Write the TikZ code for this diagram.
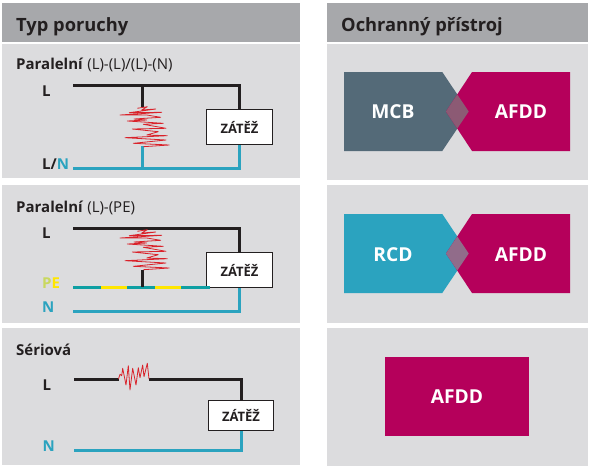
\documentclass[tikz,border=0pt]{standalone}
\usepackage{fontspec}
\setmainfont{Open Sans}
\definecolor{headgray}{HTML}{A7A8AB}
\definecolor{panelgray}{HTML}{DCDCDE}
\definecolor{ink}{HTML}{231F20}
\definecolor{wirecyan}{HTML}{2BA3BF}
\definecolor{peteal}{HTML}{0E9FA3}
\definecolor{peyellow}{HTML}{FFE600}
\definecolor{pegreen}{HTML}{C9D85F}
\definecolor{faultred}{HTML}{D9222A}
\definecolor{mcbslate}{HTML}{546A78}
\definecolor{afddred}{HTML}{B5005B}
\definecolor{mixslate}{HTML}{8C5A74}
\definecolor{mixcyan}{HTML}{916C8A}
\tikzset{
  head/.style={fill=headgray},
  panel/.style={fill=panelgray},
  headtext/.style={anchor=base west,inner sep=0pt,text=ink,font=\fontsize{18.3}{18}\selectfont\bfseries},
  title/.style={anchor=base west,inner sep=0pt,text=ink,font=\fontsize{15}{15}\selectfont},
  wirelabel/.style={anchor=base west,inner sep=0pt,text=ink,font=\fontsize{15}{15}\selectfont\bfseries},
  load/.style={draw=ink,fill=white,line width=.9pt,minimum width=66pt,minimum height=35pt,inner sep=0pt,
    text=ink,font=\fontsize{13}{13}\selectfont\bfseries},
  black wire/.style={draw=ink,line width=3pt},
  blue wire/.style={draw=wirecyan,line width=3pt},
  pewire/.style={line width=3pt},
  fault/.style={draw=faultred,line width=.8pt,line join=round},
  device/.style={text=white,inner sep=0pt,font=\fontsize{19.2}{19}\selectfont\bfseries},
  zigzag/.pic={
    \draw[fault] (137.3,108.3) -- (147.3,106.7) -- (141.7,110) -- (155.7,109) -- (129.3,112.7)
      -- (161.7,112.3) -- (120,115) -- (146.7,115) -- (160.7,117.3) -- (134,119) -- (146.7,120)
      -- (127.3,121) -- (163.3,123.3) -- (143.3,124.3) -- (166,128.3) -- (132.3,129)
      -- (158.3,131.7) -- (146.7,135) -- (167.3,135.7) -- (125,137.7) -- (166,140)
      -- (133.3,143.3) -- (169.3,145) -- (143.3,146.7);
  }
}
\begin{document}
\begin{tikzpicture}[x=1pt,y=-1pt]
    \useasboundingbox (0,0) rectangle (591,469);
    % panels
    \fill[head] (2,3) rectangle (300,42);
    \fill[head] (327,3) rectangle (588,42);
    \fill[panel] (2,44) rectangle (300,178);
    \fill[panel] (327,44) rectangle (588,180);
    \fill[panel] (2,185) rectangle (300,323);
    \fill[panel] (327,185) rectangle (588,323);
    \fill[panel] (2,328) rectangle (300,465);
    \fill[panel] (327,328) rectangle (588,466);
    \node[headtext] (typ) at (16,31) {Typ poruchy};
    \node[headtext] (ochrana) at (341,31) {Ochranný přístroj};

    % first row
    \node[title] (par1) at (16,69) {\textbf{Paralelní} (L)-(L)/(L)-(N)};
    \node[wirelabel] (l1) at (42,96) {L};
    \node[wirelabel] (n1) at (42,169.5) {L/\textcolor{wirecyan}{N}};
    \node[load] (zat1) at (239.5,127) {ZÁTĚŽ};
    \coordinate (la) at (73,85);
    \coordinate (lb) at (142,85);
    \coordinate (fa) at (142,107);
    \coordinate (fb) at (142,146);
    \coordinate (na) at (73,168);
    \coordinate (nb) at (142,168);
    \draw[black wire] (la) -| (zat1.north);
    \draw[black wire] (lb) -- (fa);
    \draw[blue wire] (na) -| (zat1.south);
    \draw[blue wire] (fb) -- (nb);
    \pic at (0,0) {zigzag};

    % second row
    \node[title] (par2) at (16,212) {\textbf{Paralelní} (L)-(PE)};
    \node[wirelabel] (l2) at (42,238.7) {L};
    \node[wirelabel] (pe2) at (42,288) {\textcolor{pegreen}{P}\textcolor{peyellow}{E}};
    \node[wirelabel,text=wirecyan] (n2) at (42,312.7) {N};
    \node[load] (zat2) at (239.5,270) {ZÁTĚŽ};
    \coordinate (lc) at (73,228);
    \coordinate (pa) at (73,287);
    \coordinate (pb) at (101,287);
    \coordinate (pc) at (127,287);
    \coordinate (pd) at (155,287);
    \coordinate (pe) at (181,287);
    \coordinate (pf) at (210,287);
    \coordinate (fc) at (142,270);
    \coordinate (fd) at (142,287);
    \coordinate (nc) at (73,311);
    \draw[black wire] (lc) -| (zat2.north);
    \draw[blue wire] (nc) -| (zat2.south);
    \draw[pewire,peteal] (pa) -- (pb);
    \draw[pewire,peyellow] (pb) -- (pc);
    \draw[pewire,peteal] (pc) -- (pd);
    \draw[pewire,peyellow] (pd) -- (pe);
    \draw[pewire,peteal] (pe) -- (pf);
    \draw[black wire] (fc) -- (fd);
    \pic at (0,123) {zigzag};

    % third row
    \node[title] (ser) at (16,355) {\textbf{Sériová}};
    \node[wirelabel] (l3) at (42.5,390) {L};
    \node[wirelabel,text=wirecyan] (n3) at (42.5,451.7) {N};
    \node[load,minimum width=65pt,minimum height=30.5pt] (zat3) at (241,415.5) {ZÁTĚŽ};
    \coordinate (ld) at (74,379);
    \coordinate (le) at (118.5,379);
    \coordinate (lf) at (149,379);
    \coordinate (nd) at (74,450);
    \draw[black wire] (ld) -- (le);
    \draw[black wire] (lf) -| (zat3.north);
    \draw[blue wire] (nd) -| (zat3.south);
    \draw[fault] (le) -- (120,374.3) -- (121.7,375.7) -- (122.7,368.3) -- (126,385) -- (128.3,365.7)
      -- (130,390) -- (132.7,368.3) -- (136,385) -- (138.3,367.7) -- (140,377.7) -- (142.7,365)
      -- (144,376.7) -- (147.3,363.3) -- (lf);

    % devices
    \fill[mcbslate] (344,72) -- (442.3,72) -- (468.7,111.5) -- (442.3,151) -- (344,151) -- cycle;
    \fill[afddred] (570,72) -- (472,72) -- (446,111.5) -- (472,151) -- (570,151) -- cycle;
    \fill[mixslate] (446,111.5) -- (457.3,94.5) -- (468.7,111.5) -- (457.3,128.5) -- cycle;
    \node[device] (mcb) at (393,112) {MCB};
    \node[device] (afdd1) at (521,112) {AFDD};

    \fill[wirecyan] (344,214) -- (442.3,214) -- (468.7,253.5) -- (442.3,293) -- (344,293) -- cycle;
    \fill[afddred] (570,214) -- (472,214) -- (446,253.5) -- (472,293) -- (570,293) -- cycle;
    \fill[mixcyan] (446,253.5) -- (457.3,236.5) -- (468.7,253.5) -- (457.3,270.5) -- cycle;
    \node[device] (rcd) at (393,255) {RCD};
    \node[device] (afdd2) at (521,255) {AFDD};

    \node[device,fill=afddred,minimum width=144pt,minimum height=79pt] (afdd3) at (457,396.5) {AFDD};
\end{tikzpicture}
\end{document}
